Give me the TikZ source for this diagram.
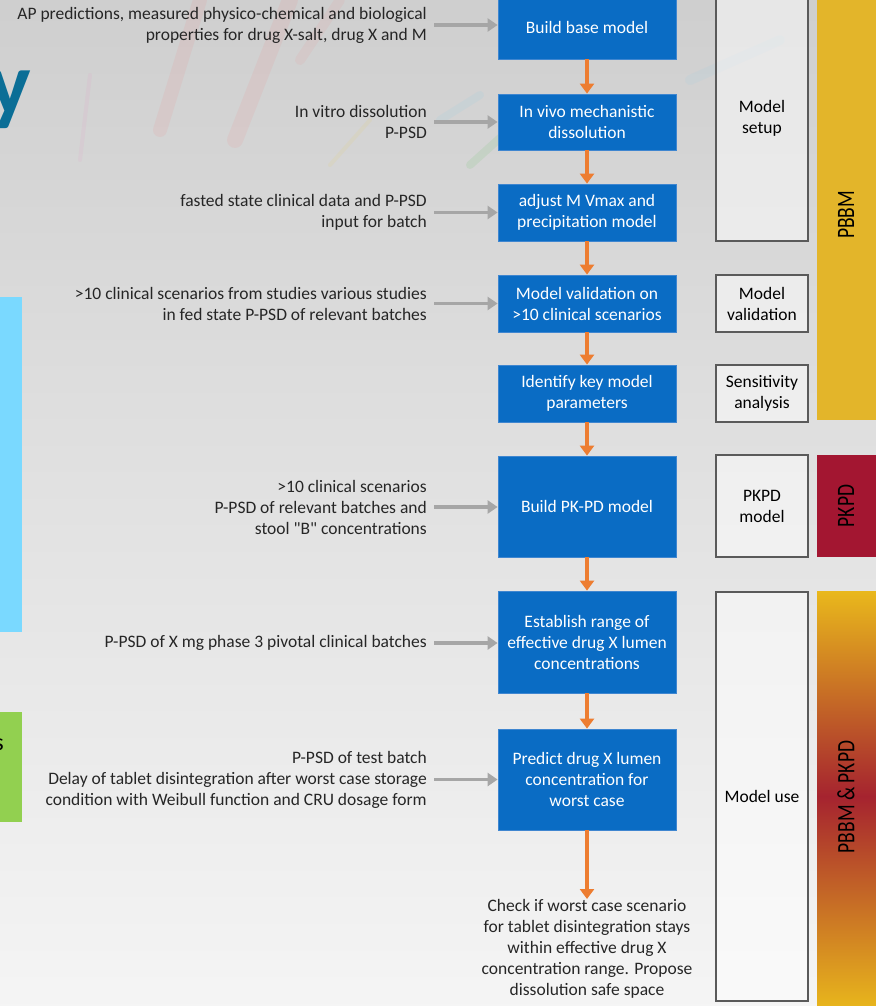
\documentclass[tikz,border=0pt]{standalone}
\usepackage{fontspec}
\setmainfont{Carlito}
\usetikzlibrary{arrows.meta}
\definecolor{boxblue}{HTML}{0A6CC4}
\definecolor{boxedge}{HTML}{3F86D0}
\definecolor{arrorange}{HTML}{ED7D31}
\definecolor{arrgray}{HTML}{A6A6A6}
\definecolor{txtdark}{HTML}{262626}
\definecolor{framegray}{HTML}{5A5A5A}
\definecolor{barpbbm}{HTML}{E3B52A}
\definecolor{barpkpd}{HTML}{A31631}
\definecolor{gradyellow}{HTML}{E9B81C}
\definecolor{gradmid}{HTML}{C0662A}
\definecolor{gradred}{HTML}{A5232F}
\definecolor{titleblue}{HTML}{0B6E96}
\definecolor{sidecyan}{HTML}{7AD9FF}
\definecolor{sidegreen}{HTML}{92D050}
\tikzset{
  txt/.style={font=\fontsize{17.5}{21}\selectfont},
  stepbox/.style={txt, draw=boxedge, line width=0.8pt, fill=boxblue, text=white,
    minimum width=178pt, align=center, inner sep=2pt},
  phasebox/.style={txt, draw=framegray, line width=1.3pt, fill=white, fill opacity=0.5,
    text opacity=1, text=black, minimum width=92pt, align=center, inner sep=2pt},
  inlabel/.style={txt, text=txtdark, align=right, anchor=east, inner xsep=7pt, inner ysep=0pt},
  flow/.style={draw=arrorange, line width=3.4pt, -{Triangle[width=14pt,length=10pt]}},
  feed/.style={draw=arrgray, line width=3.8pt, -{Triangle[width=13pt,length=10pt]}},
  bartext/.style={rotate=90, font=\fontsize{25}{27}\selectfont, text=black}
}
\begin{document}
\begin{tikzpicture}[x=1pt,y=-1pt]
\useasboundingbox (0,0) rectangle (875,1006);
% background
\shade[top color=black!19, middle color=white, bottom color=black!4] (-5,-5) rectangle (880,1011);
% faint streaks
\begin{scope}[line cap=round, opacity=0.07]
  \draw[red!70, line width=14pt] (160,130) -- (200,0);
  \draw[red!70, line width=16pt] (235,140) -- (290,0);
  \draw[red!60, line width=10pt] (300,60) -- (340,0);
  \draw[magenta!60, line width=4pt] (80,160) -- (90,75);
  \draw[green!70!black, line width=8pt] (470,165) -- (520,120);
  \draw[cyan!70, line width=8pt] (440,120) -- (480,95);
  \draw[yellow!70!orange, line width=4pt] (330,165) -- (370,120);
  \draw[cyan!60, line width=10pt] (690,80) -- (780,40);
\end{scope}
% left side decorations
\node[anchor=base east, inner sep=0pt, font=\fontsize{90}{90}\selectfont\bfseries, text=titleblue] (ttl) at (31,114) {y};
\fill[sidecyan] (0,297) rectangle (22,632);
\fill[sidegreen] (0,712) rectangle (22,822);
\node[anchor=base east, inner sep=0pt, font=\fontsize{24}{24}\selectfont, text=black] (frag) at (4,750) {s};
% right colour bars
\fill[barpbbm] (817,-5) rectangle (880,420);
\fill[barpkpd] (817,455) rectangle (880,557);
\shade[top color=gradyellow, middle color=gradmid, bottom color=gradred] (817,591) rectangle (880,797);
\shade[top color=gradred, middle color=gradmid, bottom color=gradyellow] (817,796) rectangle (880,1011);
\node[bartext] (pbbm) at (846,215) {\scalebox{0.78}[1]{PBBM}};
\node[bartext] (pkpd) at (846,506) {\scalebox{0.78}[1]{PKPD}};
\node[bartext] (both) at (846,797) {\scalebox{0.78}[1]{PBBM \& PKPD}};
% phase boxes
\node[phasebox, minimum height=246pt] (r1) at (762,118) {Model\\setup};
\node[phasebox, minimum height=57pt] (r2) at (762,303.5) {Model\\validation};
\node[phasebox, minimum height=57pt] (r3) at (762,393.5) {Sensitivity\\analysis};
\node[phasebox, minimum height=102pt] (r4) at (762,506) {PKPD\\model};
\node[phasebox, minimum height=409pt] (r5) at (762,796.5) {Model use};
% step boxes
\node[stepbox, minimum height=64pt] (b1) at (587,27) {Build base model};
\node[stepbox, minimum height=56pt] (b2) at (587,122) {In vivo mechanistic\\dissolution};
\node[stepbox, minimum height=57pt] (b3) at (587,212.5) {adjust M Vmax and\\precipitation model};
\node[stepbox, minimum height=57pt] (b4) at (587,303.5) {Model validation on\\>10 clinical scenarios};
\node[stepbox, minimum height=57pt] (b5) at (587,393.5) {Identify key model\\parameters};
\node[stepbox, minimum height=101pt] (b6) at (587,506.5) {Build PK-PD model};
\node[stepbox, minimum height=102pt] (b7) at (587,642) {Establish range of\\effective drug X lumen\\concentrations};
\node[stepbox, minimum height=101pt] (b8) at (587,779.5) {Predict drug X lumen\\concentration for\\worst case};
\node[txt, text=txtdark, align=center, inner sep=0pt, anchor=north] (fin) at (587,899) {Check if worst case scenario\\for tablet disintegration stays\\within effective drug X\\concentration range. Propose\\dissolution safe space};
% input labels
\node[inlabel] (l1) at (434,25) {AP predictions, measured physico-chemical and biological\\properties for drug X-salt, drug X and M};
\node[inlabel] (l2) at (434,122) {In vitro dissolution\\P-PSD};
\node[inlabel] (l3) at (434,212.5) {fasted state clinical data and P-PSD\\input for batch};
\node[inlabel] (l4) at (434,303.5) {>10 clinical scenarios from studies various studies\\in fed state P-PSD of relevant batches};
\node[inlabel] (l5) at (434,507) {>10 clinical scenarios\\P-PSD of relevant batches and\\stool \textquotedbl B\textquotedbl{} concentrations};
\node[inlabel] (l6) at (434,643) {P-PSD of X mg phase 3 pivotal clinical batches};
\node[inlabel] (l7) at (434,779.5) {P-PSD of test batch\\Delay of tablet disintegration after worst case storage\\condition with Weibull function and CRU dosage form};
% feed arrows
\draw[feed] (l1.east) -- (b1.west |- l1.east);
\draw[feed] (l2.east) -- (b2.west);
\draw[feed] (l3.east) -- (b3.west);
\draw[feed] (l4.east) -- (b4.west);
\draw[feed] (l5.east) -- (b5.west |- l5.east);
\draw[feed] (l6.east) -- (b7.west |- l6.east);
\draw[feed] (l7.east) -- (b8.west);
% flow arrows
\draw[flow] (b1) -- (b2);
\draw[flow] (b2) -- (b3);
\draw[flow] (b3) -- (b4);
\draw[flow] (b4) -- (b5);
\draw[flow] (b5) -- (b6);
\draw[flow] (b6) -- (b7);
\draw[flow] (b7) -- (b8);
\draw[flow] (b8) -- (fin);
\end{tikzpicture}
\end{document}
